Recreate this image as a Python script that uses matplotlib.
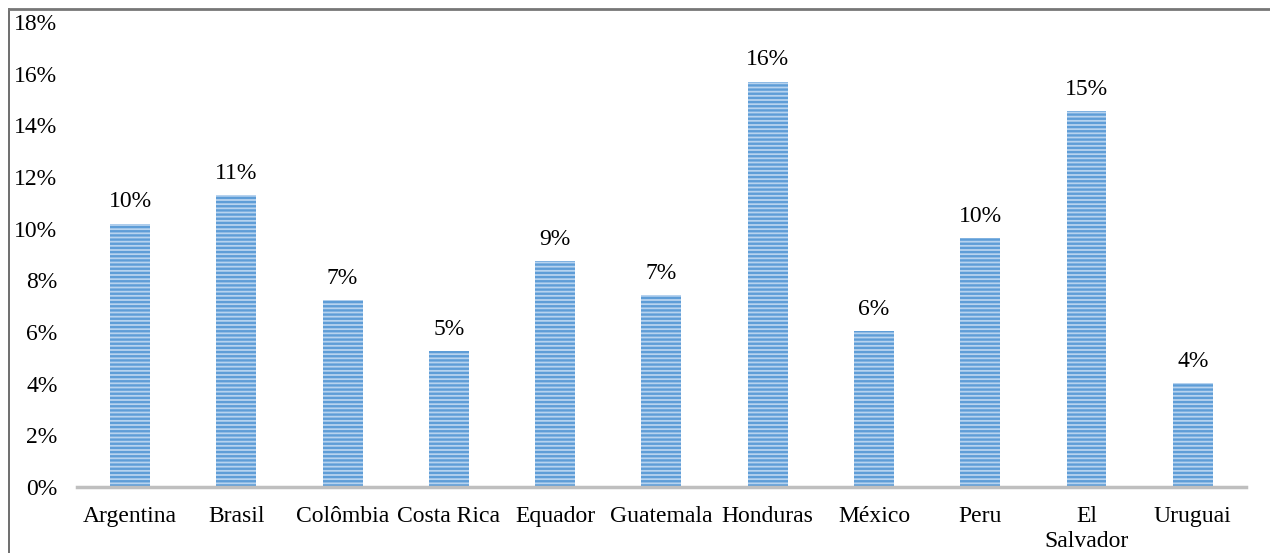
import matplotlib
matplotlib.use('Agg')
import matplotlib.pyplot as plt
from matplotlib.lines import Line2D
from matplotlib.ticker import FuncFormatter

plt.rcParams['font.family'] = ['Liberation Serif', 'DejaVu Serif']
plt.rcParams['hatch.linewidth'] = 1.7

countries = ['Argentina', 'Brasil', 'Colômbia', 'Costa Rica', 'Equador', 'Guatemala',
             'Honduras', 'México', 'Peru', 'El\nSalvador', 'Uruguai']
shares = [10.2, 11.3, 7.24, 5.27, 8.75, 7.43, 15.7, 6.04, 9.64, 14.56, 4.03]
bar_labels = ['10%', '11%', '7%', '5%', '9%', '7%', '16%', '6%', '10%', '15%', '4%']
yticks = [0, 2, 4, 6, 8, 10, 12, 14, 16, 18]

FS = 17

fig = plt.figure(figsize=(12.7, 5.53), dpi=100)
ax = fig.add_axes([0.0606, 0.1193, 0.9204, 0.8407])

x = range(len(countries))
bars = ax.bar(x, shares, width=0.375, color='#B7D3EF', edgecolor='#5E9DD7',
              linewidth=0, hatch='----')

for bar, lab in zip(bars, bar_labels):
    ax.annotate(lab, (bar.get_x() + bar.get_width() / 2, bar.get_height()),
                xytext=(0, 8), textcoords='offset points',
                ha='center', va='bottom', fontsize=FS)

ax.set_xlim(-0.5, len(countries) - 0.5)
ax.set_ylim(0, 18)
ax.set_yticks(yticks)
ax.yaxis.set_major_formatter(FuncFormatter(lambda v, p: f'{v:.0f}%'))
ax.set_xticks(list(x))
ax.set_xticklabels(countries, fontsize=FS, linespacing=1.2)
ax.tick_params(axis='y', length=0, pad=14, labelsize=FS)
ax.tick_params(axis='x', length=0, pad=14)

for s in ['top', 'right', 'left']:
    ax.spines[s].set_visible(False)
ax.spines['bottom'].set_color('#BFBFBF')
ax.spines['bottom'].set_linewidth(2.5)

# outer frame (left and top only)
fig.add_artist(Line2D([9 / 1270, 9 / 1270], [0, 1 - 9 / 553], transform=fig.transFigure,
                      color='#555555', linewidth=1.2))
fig.add_artist(Line2D([9 / 1270, 1], [1 - 9 / 553, 1 - 9 / 553], transform=fig.transFigure,
                      color='#777777', linewidth=2))

fig.savefig('out.png', dpi=100)
